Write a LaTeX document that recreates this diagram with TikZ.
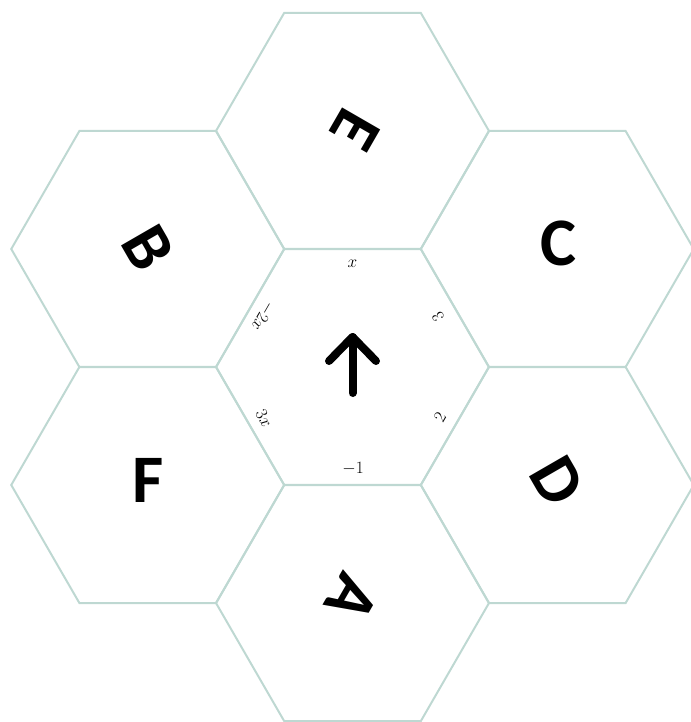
\documentclass[tikz,border=0pt]{standalone}
\usepackage{fontspec}
\newfontfamily\letterfont{Carlito}
\usetikzlibrary{shapes.geometric}
\definecolor{hexline}{RGB}{190,216,210}
\begin{document}
\begin{tikzpicture}[x=1pt,y=-1pt,
  hexcell/.style={draw=hexline, line width=2pt, regular polygon, regular polygon sides=6, minimum size=273pt, inner sep=0pt},
  bigletter/.style={font=\letterfont\bfseries\fontsize{68}{68}\selectfont, inner sep=0pt},
  edgelabel/.style={font=\fontsize{16}{16}\selectfont, inner sep=0pt},
  arrowstroke/.style={line width=8pt, line cap=round, line join=round}]
\useasboundingbox (0,0) rectangle (690,722);
% hexagons
\node[hexcell] (hctr) at (352.5,367) {};
\node[hexcell] (hE) at (352.5,131) {};
\node[hexcell] (hA) at (352.5,603) {};
\node[hexcell] (hB) at (147.75,249) {};
\node[hexcell] (hF) at (147.75,485) {};
\node[hexcell] (hC) at (557.25,249) {};
\node[hexcell] (hD) at (557.25,485) {};
% big letters
\node[bigletter, rotate=-120] (lE) at (355,130) {E};
\node[bigletter, rotate=-60] (lB) at (148,248) {B};
\node[bigletter] (lC) at (558,243) {C};
\node[bigletter] (lF) at (148,480) {F};
\node[bigletter, rotate=-60] (lD) at (557,481) {D};
\node[bigletter, rotate=-120] (lA) at (352,598) {A};
% arrow in the centre
\coordinate (atip) at (352.5,337);
\coordinate (abase) at (352.5,393);
\coordinate (aleft) at (329,361);
\coordinate (aright) at (376,361);
\draw[arrowstroke] (abase) -- (atip);
\draw[arrowstroke] (aleft) -- (atip) -- (aright);
% edge labels
\node[edgelabel] (eT) at (352.5,264) {$x$};
\node[edgelabel, rotate=120] (eUR) at (438,317) {$3$};
\node[edgelabel, rotate=60] (eLR) at (440,417) {$2$};
\node[edgelabel] (eB) at (353,469) {$-1$};
\node[edgelabel, rotate=-60] (eLL) at (264,418) {$3x$};
\node[edgelabel, rotate=240] (eUL) at (263,316) {$-2x$};
\end{tikzpicture}
\end{document}
